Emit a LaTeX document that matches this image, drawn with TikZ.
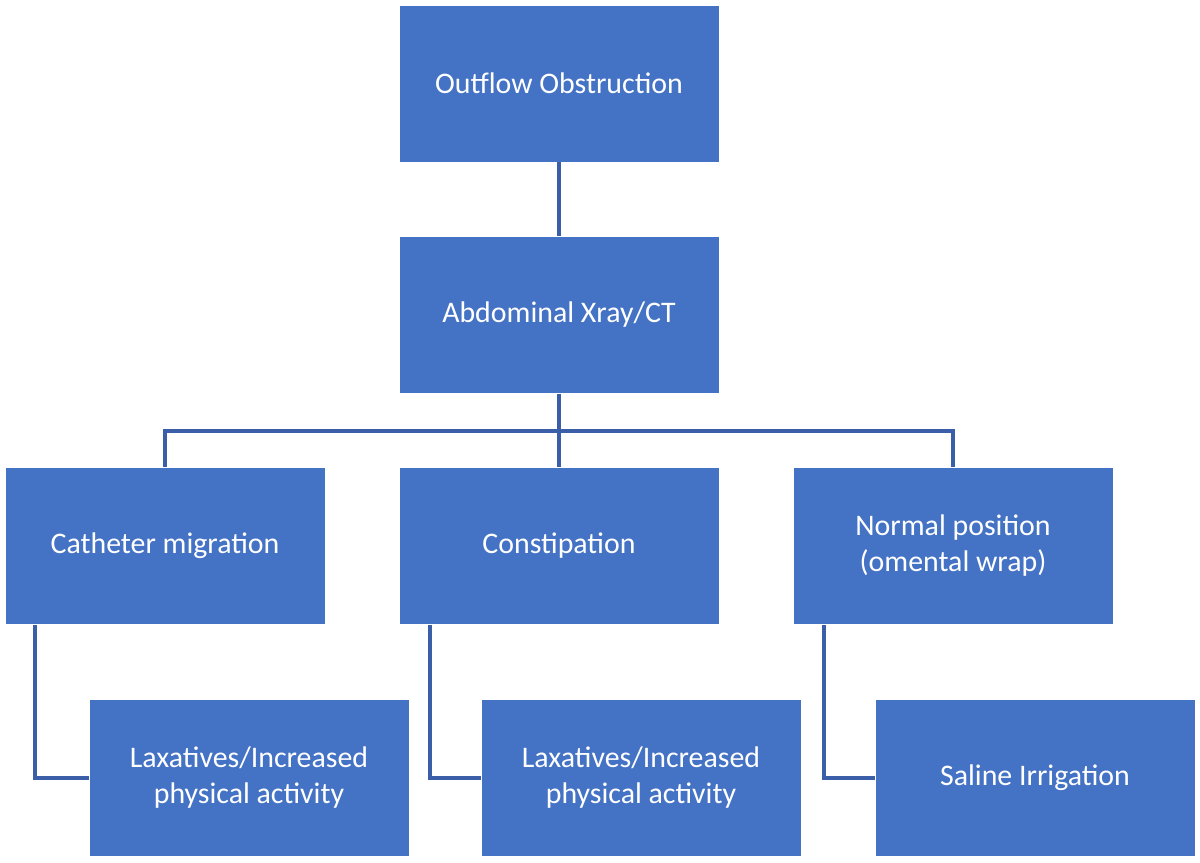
\documentclass[tikz,border=0pt]{standalone}
\usepackage{fontspec}
\setmainfont{Carlito}
\definecolor{boxblue}{HTML}{4472C4}
\definecolor{lineblue}{HTML}{3A5FA8}
\begin{document}
\begin{tikzpicture}[x=0.02cm,y=-0.02cm,
                box/.style={
                    draw=white, fill=boxblue, text=white, thin,
                    minimum width=6.4cm, minimum height=3.14cm,
                    align=center, font=\fontsize{17}{20.5}\selectfont
                },
                link/.style={lineblue, line width=2.4pt}
            ]
            \useasboundingbox (0,0) rectangle (1200,862);
            \node[box] (out) at (559,83.5) {Outflow Obstruction};
            \node[box] (abd) at (559,315) {Abdominal Xray/CT};
            \node[box] (cath) at (165,546) {Catheter migration};
            \node[box] (const) at (559,546) {Constipation};
            \node[box] (norm) at (953,546) {Normal position\\(omental wrap)};
            \node[box] (lax1) at (249,778) {Laxatives/Increased\\physical activity};
            \node[box] (lax2) at (641,778) {Laxatives/Increased\\physical activity};
            \node[box] (sal) at (1035,778) {Saline Irrigation};
            \coordinate (bus) at (559,431);
            
            % connectors
            \draw[link] (out) -- (abd);
            \draw[link] (abd) -- (const);
            \draw[link] (cath.north) |- (bus) -| (norm.north);
            \draw[link] ([xshift=0.6cm]cath.south west) |- (lax1.west);
            \draw[link] ([xshift=0.62cm]const.south west) |- (lax2.west);
            \draw[link] ([xshift=0.62cm]norm.south west) |- (sal.west);
            \end{tikzpicture}
\end{document}
